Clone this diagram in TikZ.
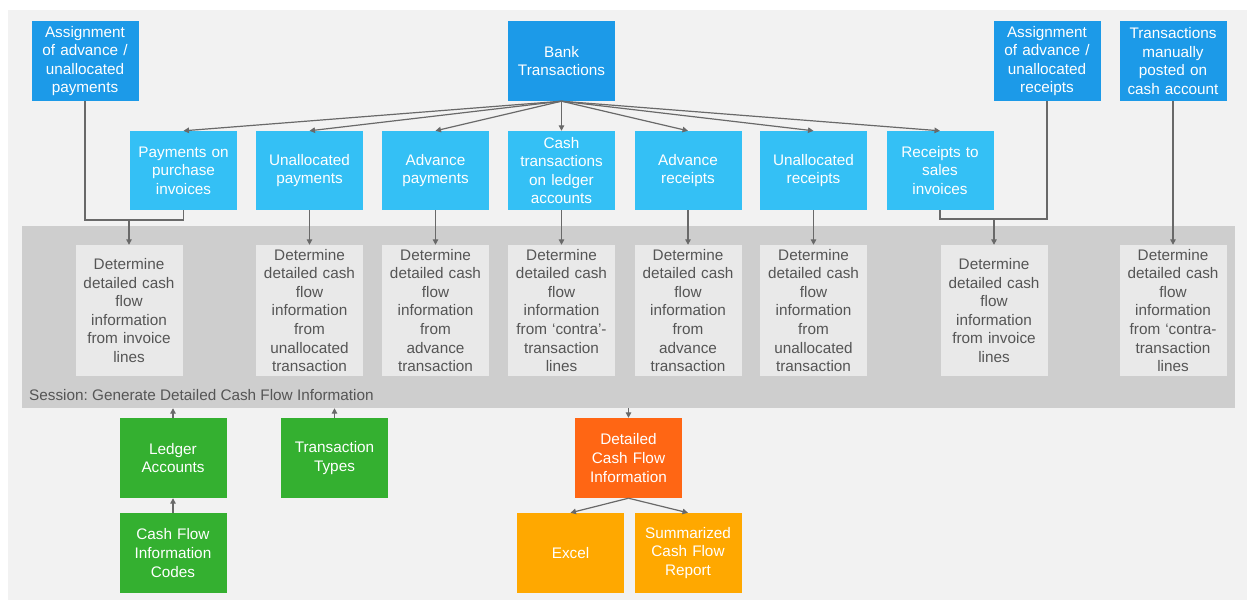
\documentclass[tikz,border=0pt]{standalone}
\usepackage{fontspec}
\setmainfont{Liberation Sans}
\usepackage{tikz}
\usetikzlibrary{arrows.meta}
\frenchspacing
\definecolor{darkblue}{RGB}{28,154,232}
\definecolor{lightblue}{RGB}{52,192,245}
\definecolor{grn}{RGB}{52,176,48}
\definecolor{redorange}{RGB}{255,102,20}
\definecolor{orng}{RGB}{255,168,0}
\definecolor{bggray}{RGB}{242,242,242}
\definecolor{sesgray}{RGB}{206,206,206}
\definecolor{detgray}{RGB}{233,233,233}
\definecolor{linegray}{RGB}{105,105,105}
\definecolor{textgray}{RGB}{85,85,85}

\begin{document}
\begin{tikzpicture}[x=1pt,y=-1pt,
  box/.style={minimum width=107pt,minimum height=80pt,inner sep=1pt,text width=104pt,
    align=center,font=\fontsize{15.3}{18.6}\selectfont,text=white},
  topbox/.style={box,fill=darkblue},
  midbox/.style={box,fill=lightblue,minimum height=79pt},
  detbox/.style={box,fill=detgray,minimum height=131pt,text=textgray},
  srcbox/.style={box,fill=grn},
  link/.style={draw=linegray,line width=1.2pt},
  arr/.style={link,-{Triangle[length=5.5pt,width=5.5pt]}}]
\useasboundingbox (0,0) rectangle (1253,600);
\fill[bggray] (8,10) rectangle (1247,600);

\node[fill=sesgray,minimum width=1213pt,minimum height=182pt,inner sep=0pt] (session) at (628.5,317) {};
\node[anchor=west,inner sep=0pt,text=textgray,font=\fontsize{15.3}{18.6}\selectfont] (seslabel) at (29,395) {Session: Generate Detailed Cash Flow Information};

\node[topbox] (asgpay) at (85,61) {Assignment\\of advance /\\unallocated\\payments};
\node[topbox] (bank) at (561.5,61) {Bank\\Transactions};
\node[topbox] (asgrec) at (1047,61) {Assignment\\of advance /\\unallocated\\receipts};
\node[topbox] (manual) at (1173,61) {Transactions\\manually\\posted on\\cash account};

\node[midbox] (pinv) at (183.5,170.5) {Payments on\\purchase\\invoices};
\node[midbox] (unpay) at (309.5,170.5) {Unallocated\\payments};
\node[midbox] (advpay) at (435.5,170.5) {Advance\\payments};
\node[midbox] (cashtr) at (561.5,170.5) {Cash\\transactions\\on ledger\\accounts};
\node[midbox] (advrec) at (688,170.5) {Advance\\receipts};
\node[midbox] (unrec) at (813.5,170.5) {Unallocated\\receipts};
\node[midbox] (rsales) at (940,170.5) {Receipts to\\sales\\invoices};

\node[detbox] (det1) at (129,310.5) {Determine\\detailed cash\\flow\\information\\from invoice\\lines};
\node[detbox] (det2) at (309.5,310.5) {Determine\\detailed cash\\flow\\information\\from\\unallocated\\transaction};
\node[detbox] (det3) at (435.5,310.5) {Determine\\detailed cash\\flow\\information\\from\\advance\\transaction};
\node[detbox] (det4) at (561.5,310.5) {Determine\\detailed cash\\flow\\information\\from `contra'-\\transaction\\lines};
\node[detbox] (det5) at (688,310.5) {Determine\\detailed cash\\flow\\information\\from\\advance\\transaction};
\node[detbox] (det6) at (813.5,310.5) {Determine\\detailed cash\\flow\\information\\from\\unallocated\\transaction};
\node[detbox] (det7) at (994,310.5) {Determine\\detailed cash\\flow\\information\\from invoice\\lines};
\node[detbox] (det8) at (1173,310.5) {Determine\\detailed cash\\flow\\information\\from `contra-\\transaction\\lines};

\node[srcbox] (ledger) at (173,458) {Ledger\\Accounts};
\node[srcbox] (ttypes) at (334.5,458) {Transaction\\Types};
\node[srcbox] (cfcodes) at (173,553) {Cash Flow\\Information\\Codes};
\node[box,fill=redorange] (dcfi) at (628.5,458) {Detailed\\Cash Flow\\Information};
\node[box,fill=orng] (excel) at (570.5,553) {Excel};
\node[box,fill=orng] (summ) at (688,553) {Summarized\\Cash Flow\\Report};

% bank transactions split
\foreach \n in {pinv,unpay,advpay,cashtr,advrec,unrec,rsales}
  \draw[arr] (bank.south) -- (\n.north);
\foreach \a/\b in {unpay/det2,advpay/det3,cashtr/det4,advrec/det5,unrec/det6,manual/det8}
  \draw[arr] (\a.south) -- (\b.north);

% assignments join the invoice lines
\coordinate (jpay) at (129,220);
\draw[link] (asgpay.south) |- (pinv.south |- jpay) -- (pinv.south);
\draw[arr] (jpay) -- (det1.north);
\coordinate (jrec) at (994,219);
\draw[link] (rsales.south) |- (asgrec.south |- jrec) -- (asgrec.south);
\draw[arr] (jrec) -- (det7.north);

\draw[arr] (ledger.north) -- (ledger.north |- session.south);
\draw[arr] (ttypes.north) -- (ttypes.north |- session.south);
\draw[arr] (cfcodes.north) -- (ledger.south);
\draw[arr] (session.south -| dcfi.north) -- (dcfi.north);
\draw[arr] (dcfi.south) -- (excel.north);
\draw[arr] (dcfi.south) -- (summ.north);
\end{tikzpicture}
\end{document}
